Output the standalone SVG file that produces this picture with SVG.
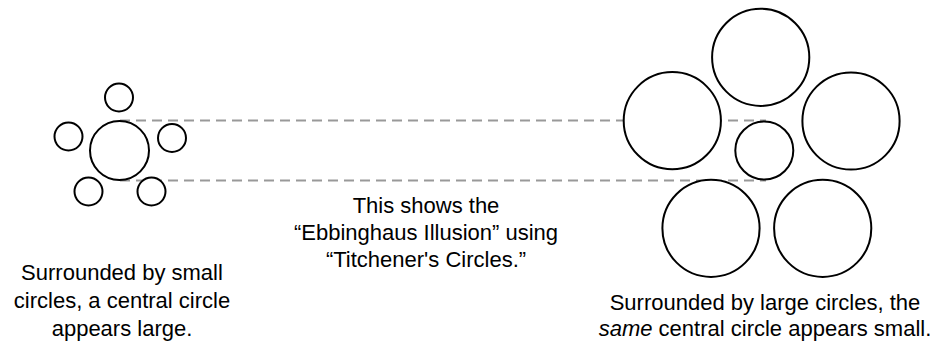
<svg xmlns="http://www.w3.org/2000/svg" width="937" height="350" viewBox="0 0 937 350">
<style>
.c{fill:#fff;stroke:#000;stroke-width:2}
.d{stroke:#999;stroke-width:2;stroke-dasharray:10 6;fill:none}
text{font-family:"Liberation Sans",Arial,sans-serif;font-size:22px;fill:#000;text-anchor:middle}
</style>
<rect width="937" height="350" fill="#fff"/>
<g id="connectors">
<line class="d" x1="120" y1="120.5" x2="766" y2="120.5"/>
<line class="d" x1="120" y1="180.5" x2="766" y2="180.5"/>
</g>
<g id="left-cluster">
<circle id="left-center" class="c" cx="119.5" cy="150.5" r="29.5"/>
<circle id="left-top" class="c" cx="119" cy="97.5" r="14"/>
<circle id="left-left" class="c" cx="68.5" cy="136.5" r="14"/>
<circle id="left-right" class="c" cx="172" cy="138" r="14"/>
<circle id="left-bl" class="c" cx="88.5" cy="191.5" r="14"/>
<circle id="left-br" class="c" cx="151.5" cy="191.5" r="14"/>
</g>
<g id="right-cluster">
<circle id="right-center" class="c" cx="764.3" cy="150.5" r="29"/>
<circle id="right-top" class="c" cx="760.7" cy="57.3" r="48.6"/>
<circle id="right-left" class="c" cx="672.3" cy="120.7" r="48.6"/>
<circle id="right-right" class="c" cx="851" cy="121" r="48.6"/>
<circle id="right-bl" class="c" cx="711" cy="228.3" r="48.6"/>
<circle id="right-br" class="c" cx="822.7" cy="228.3" r="48.6"/>
</g>
<g id="center-label">
<text x="426" y="213">This shows the</text>
<text x="426" y="240">“Ebbinghaus Illusion” using</text>
<text x="426" y="267">“Titchener's Circles.”</text>
</g>
<g id="left-label">
<text x="122" y="280">Surrounded by small</text>
<text x="122" y="308">circles, a central circle</text>
<text x="122" y="336">appears large.</text>
</g>
<g id="right-label">
<text x="765" y="310">Surrounded by large circles, the</text>
<text x="765" y="336"><tspan font-style="italic">same</tspan> central circle appears small.</text>
</g>
</svg>
